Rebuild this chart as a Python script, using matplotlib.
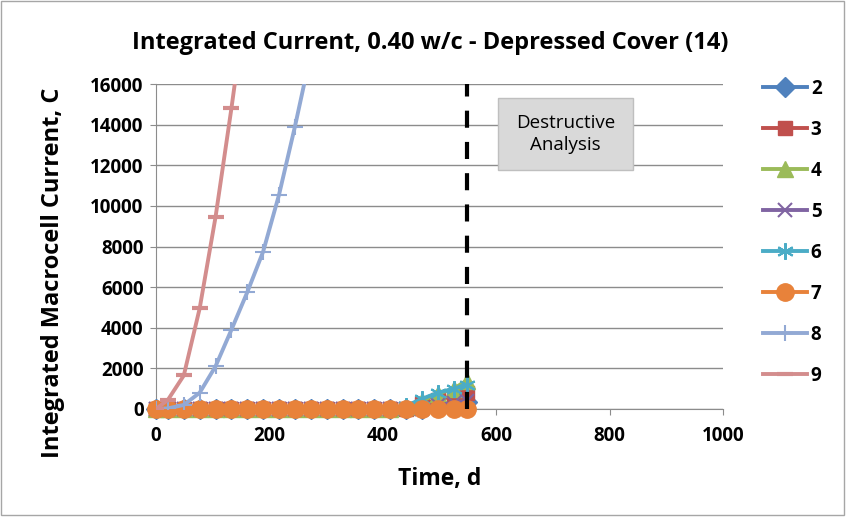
import matplotlib
matplotlib.use("Agg")
import matplotlib.pyplot as plt
from matplotlib.patches import Rectangle

plt.rcParams['font.family'] = ['Open Sans', 'DejaVu Sans']

days = [0, 21, 49, 77, 105, 133, 161, 189, 217, 245, 273, 301, 329, 357,
        385, 413, 441, 469, 497, 525, 548]

s2 = [0]*18 + [150, 250, 350]
s3 = [0]*17 + [250, 450, 650, 800]
s4 = [0]*16 + [100, 400, 750, 1000, 1400]
s5 = [0]*18 + [200, 300, 400]
s6 = [0]*16 + [150, 500, 800, 1000, 1200]
s7 = [0]*21
days8 = [0, 21, 49, 77, 105, 133, 161, 189, 217, 245, 273]
s8 = [0, 30, 200, 800, 2100, 3900, 5750, 7750, 10550, 13900, 17500]
days9 = [0, 21, 49, 77, 105, 133, 161]
s9 = [0, 450, 1650, 4950, 9450, 14800, 20500]

labels = ['2', '3', '4', '5', '6', '7', '8', '9']
colors = ['#4F81BD', '#C0504D', '#9BBB59', '#8064A2', '#4BACC6', '#E8823A',
          '#92A9D4', '#D38D8D']

fig = plt.figure(figsize=(8.46, 5.17), dpi=100)
ax = fig.add_axes([0.1844, 0.2089, 0.6702, 0.6286])

series = [(days, s2, 'D', 10, 1, False), (days, s3, 's', 10, 1, False),
          (days, s4, '^', 11, 1, False), (days, s5, 'x', 10, 1.5, False),
          (days, s6, (6, 2, 0), 12, 1.5, False),
          (days, s7, 'o', 12.5, 1, False), (days8, s8, '+', 11, 1.5, True),
          (days9, s9, '_', 11, 3, True)]
for i, (x, y, m, ms, mew, clip) in enumerate(series):
    ax.plot(x, y, color=colors[i], lw=2.8, marker=m, ms=ms, mew=mew,
            mec=colors[i], mfc=colors[i], label=labels[i], zorder=3+i,
            clip_on=clip)

ax.axvline(548, color='black', lw=3.0, ls=(0, (4.1, 3.4)), zorder=20)

ax.set_xlim(0, 1000)
ax.set_ylim(0, 16000)
ax.set_xticks(range(0, 1001, 200))
ax.set_yticks(range(0, 16001, 2000))
ax.grid(axis='y', color='#8c8c8c', lw=1)
ax.set_axisbelow(True)
for s in ['top', 'right']:
    ax.spines[s].set_visible(False)
for s in ['left', 'bottom']:
    ax.spines[s].set_color('#8c8c8c')
ax.tick_params(axis='both', colors='#8c8c8c', length=4, labelcolor='black',
               labelsize=13.5)
ax.tick_params(axis='x', pad=8)
ax.tick_params(axis='y', pad=5)
for lab in ax.get_xticklabels() + ax.get_yticklabels():
    lab.set_fontweight('bold')

ax.set_xlabel('Time, d', fontsize=16.5, fontweight='bold')
ax.xaxis.set_label_coords(0.5, -0.178)
ax.set_ylabel('Integrated Macrocell Current, C', fontsize=17,
              fontweight='bold')
ax.yaxis.set_label_coords(-0.16, 0.418)
fig.text(0.509, 0.917, 'Integrated Current, 0.40 w/c - Depressed Cover (14)',
         ha='center', va='center', fontsize=17, fontweight='bold')

ax.add_patch(Rectangle((0.603, 0.735), 0.238, 0.2215, transform=ax.transAxes,
                       fc='#d9d9d9', ec='#bfbfbf', lw=1, zorder=25))
ax.text(0.722, 0.846, 'Destructive\nAnalysis', transform=ax.transAxes,
        ha='center', va='center', fontsize=13.5, linespacing=1.25, zorder=26)

leg = fig.legend(loc='upper left', bbox_to_anchor=(0.893, 0.862),
                 frameon=False, fontsize=13.5, handlelength=2.35,
                 labelspacing=1.12, borderaxespad=0, handletextpad=0.2)
for t in leg.get_texts():
    t.set_fontweight('bold')

fig.add_artist(Rectangle((0.001, 0.003), 0.997, 0.995, transform=fig.transFigure,
                         fill=False, ec='#a6a6a6', lw=1))

fig.savefig('out.png', dpi=100)
